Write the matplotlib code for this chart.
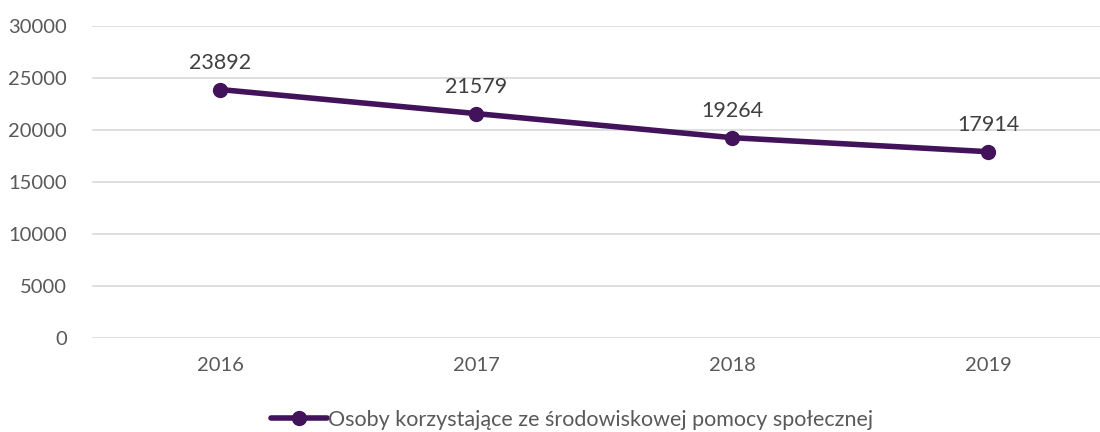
import numpy as np
import matplotlib.pyplot as plt

years = ["2016", "2017", "2018", "2019"]
values = [23892, 21579, 19264, 17914]
series_label = "Osoby korzystające ze środowiskowej pomocy społecznej"

plt.rcParams['font.family'] = ['Lato', 'DejaVu Sans']

line_color = "#42135a"
text_color = "#595959"

fig = plt.figure(figsize=(11, 4.32), dpi=100)
fig.set_facecolor("white")
ax = fig.add_axes([92 / 1100, 1 - 338 / 432, 1024 / 1100, 312 / 432])

x = np.arange(len(years))
ax.plot(x, values, color=line_color, linewidth=4, marker="o", markersize=10,
        label=series_label, solid_capstyle="round")

for xi, v in zip(x, values):
    ax.annotate(str(v), (xi, v), xytext=(0, 12), textcoords="offset points",
                ha="center", va="bottom", fontsize=15.5, color="#404040")

ax.set_xlim(-0.5, 3.5)
ax.set_ylim(0, 30000)
ax.set_yticks(np.arange(0, 30001, 5000))
ax.set_xticks(x)
ax.set_xticklabels(years)

ax.grid(True, axis="y", color="#d9d9d9", linewidth=1.2)
ax.set_axisbelow(True)
for s in ax.spines.values():
    s.set_visible(False)
ax.tick_params(axis="both", length=0, labelsize=14.5, colors=text_color)
ax.tick_params(axis="x", pad=14)
ax.tick_params(axis="y", pad=18)

leg = fig.legend(loc="lower center", bbox_to_anchor=(0.52, -0.04), frameon=False,
                 fontsize=15.5, handlelength=2.6, handletextpad=0.05)
for t in leg.get_texts():
    t.set_color(text_color)

fig.savefig("out.png", dpi=100)
